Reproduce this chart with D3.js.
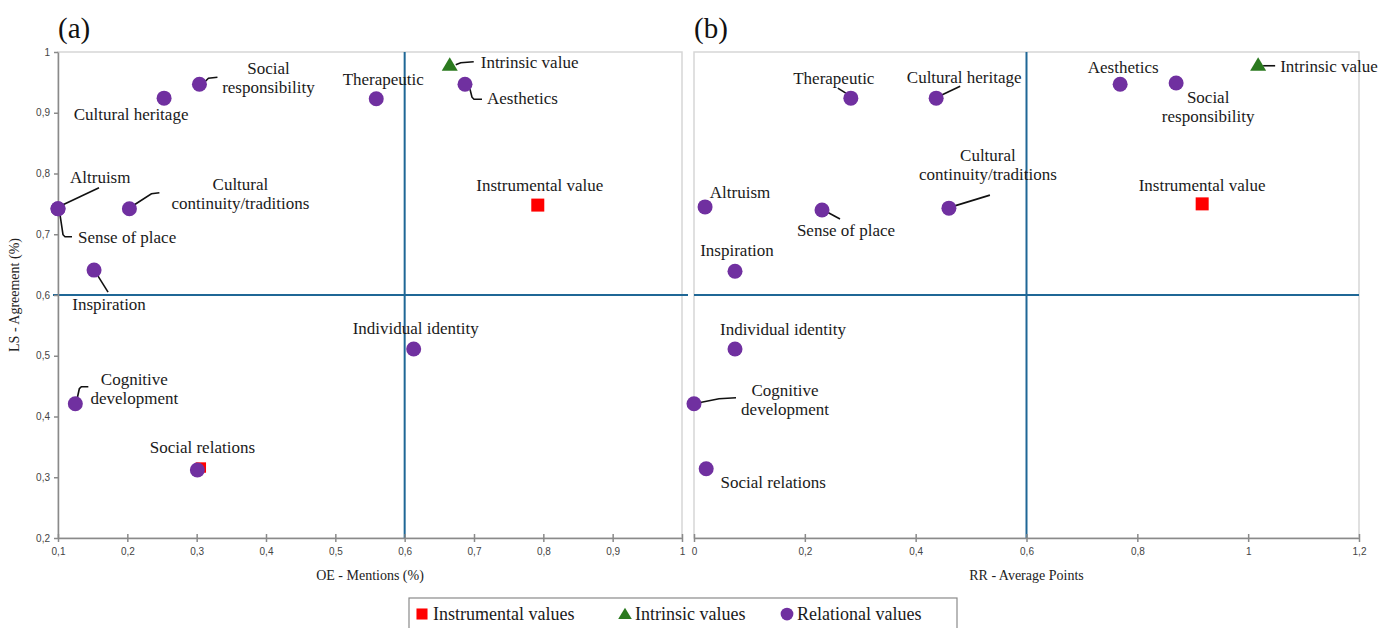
<!DOCTYPE html>
<html><head><meta charset="utf-8">
<script src="https://cdn.jsdelivr.net/npm/d3@7"></script>
<style>body{margin:0;background:#fff}svg{display:block}</style>
</head><body>
<svg id="c" width="1387" height="628"></svg>
<script>
// ---------- DATA ----------
const categories = ["Instrumental value","Intrinsic value","Aesthetics","Therapeutic","Social responsibility","Cultural heritage","Altruism","Sense of place","Cultural continuity/traditions","Inspiration","Individual identity","Cognitive development","Social relations"];
const groups = ["instrumental","intrinsic","relational","relational","relational","relational","relational","relational","relational","relational","relational","relational","relational"];
// panel (a): OE - Mentions (%)
const oeMentions = [0.792,0.665,0.687,0.559,0.304,0.253,0.100,0.100,0.203,0.152,0.613,0.125,0.301];
// panel (b): RR - Average Points
const rrPoints   = [0.917,1.018,0.769,0.283,0.870,0.437,0.020,0.231,0.460,0.074,0.074,0.000,0.022];
// LS - Agreement (%) panel (a) and (b)
const lsAgreeA   = [0.748,0.979,0.947,0.923,0.947,0.924,0.742,0.742,0.742,0.641,0.511,0.421,0.312];
const lsAgreeB   = [0.750,0.979,0.947,0.924,0.949,0.924,0.745,0.740,0.743,0.639,0.511,0.421,0.314];
// red instrumental marker partly hidden behind "Social relations" in panel (a)
const hiddenA = [{x:0.306, y:0.316}];
const yTicks  = [0.2,0.3,0.4,0.5,0.6,0.7,0.8,0.9,1];
const xTicksA = [0.1,0.2,0.3,0.4,0.5,0.6,0.7,0.8,0.9,1];
const xTicksB = [0,0.2,0.4,0.6,0.8,1,1.2];
const refX = 0.6, refY = 0.6;
const legendItems = [{g:"instrumental",t:"Instrumental values"},{g:"intrinsic",t:"Intrinsic values"},{g:"relational",t:"Relational values"}];

// ---------- LABEL LAYOUT (pixel offsets from the mark) ----------
const layoutA = {
 "Instrumental value":{dx:2,dy:[-14],a:"middle"},
 "Intrinsic value":{dx:31,dy:[3],a:"start",l:[[6,0],[11,-2],[24,-3]]},
 "Aesthetics":{dx:22,dy:[20],a:"start",l:[[5,5],[7,13],[9,15],[17,15]]},
 "Therapeutic":{dx:7,dy:[-14],a:"middle"},
 "Social responsibility":{dx:69,dy:[-10,9],a:"middle",t:["Social","responsibility"],l:[[6,-3],[9,-6],[18,-7]]},
 "Cultural heritage":{dx:-33,dy:[22],a:"middle"},
 "Altruism":{dx:12,dy:[-26],a:"start",l:[[5,-4],[41,-21]]},
 "Sense of place":{dx:20,dy:[34],a:"start",l:[[2,6],[5,26],[7,28],[14,28]]},
 "Cultural continuity/traditions":{dx:111,dy:[-19,0],a:"middle",t:["Cultural","continuity/traditions"],l:[[5,-4],[22,-15],[30,-16]]},
 "Inspiration":{dx:15,dy:[40],a:"middle",l:[[4,6],[14,22]]},
 "Individual identity":{dx:2,dy:[-15],a:"middle"},
 "Cognitive development":{dx:59,dy:[-19,0],a:"middle",t:["Cognitive","development"],l:[[2,-6],[4,-15],[6,-17],[13,-17]]},
 "Social relations":{dx:5,dy:[-17],a:"middle"}
};
const layoutB = {
 "Instrumental value":{dx:0,dy:[-13],a:"middle"},
 "Intrinsic value":{dx:22,dy:[7],a:"start",l:[[5,1],[17,1]]},
 "Aesthetics":{dx:3,dy:[-11],a:"middle"},
 "Therapeutic":{dx:-17,dy:[-14],a:"middle",l:[[-5,-5],[-13,-10]]},
 "Social responsibility":{dx:32,dy:[20,39],a:"middle",t:["Social","responsibility"]},
 "Cultural heritage":{dx:28,dy:[-15],a:"middle",l:[[5,-3],[24,-12]]},
 "Altruism":{dx:35,dy:[-9],a:"middle"},
 "Sense of place":{dx:24,dy:[26],a:"middle",l:[[5,2],[18,9]]},
 "Cultural continuity/traditions":{dx:39,dy:[-47,-28],a:"middle",t:["Cultural","continuity/traditions"],l:[[5,-2],[41,-13]]},
 "Inspiration":{dx:2,dy:[-15],a:"middle"},
 "Individual identity":{dx:48,dy:[-14],a:"middle"},
 "Cognitive development":{dx:91,dy:[-8,11],a:"middle",t:["Cognitive","development"],l:[[5,-1],[25,-5],[42,-6]]},
 "Social relations":{dx:67,dy:[19],a:"middle"}
};

// ---------- DRAW ----------
const svg = d3.select("#c");
const col = {instrumental:"#ff0000", intrinsic:"#2b7a1f", relational:"#7030a0"};
const blue = "#1f6796";
const serif = "'Liberation Serif','Times New Roman',serif";
const sans = "'Liberation Sans',Arial,sans-serif";
const fmt = d => Math.abs(d-Math.round(d))<1e-9 ? String(Math.round(d)) : d3.format(".1f")(d).replace(".",",");

const y = d3.scaleLinear().domain([0.2,1]).range([538,52]);
const xA = d3.scaleLinear().domain([0.1,1]).range([58,682]);
const xB = d3.scaleLinear().domain([0,1.2]).range([694,1359]);

function marker(g, grp, cx, cy, s){
  s = s||1;
  if(grp==="relational") g.append("circle").attr("cx",cx).attr("cy",cy).attr("r",7.5*s).attr("fill",col.relational);
  else if(grp==="instrumental") g.append("rect").attr("x",cx-6.5*s).attr("y",cy-6.5*s).attr("width",13*s).attr("height",13*s).attr("fill",col.instrumental);
  else g.append("path").attr("d",`M${cx},${cy-7.5*s}L${cx+8*s},${cy+6*s}L${cx-8*s},${cy+6*s}Z`).attr("fill",col.intrinsic);
}

function panel(x, xTicks, xs, ys, layout, title, tag, showY){
  const g = svg.append("g");
  const [x0,x1] = x.range(), [y0,y1] = [y(1), y(0.2)];
  g.append("rect").attr("x",x0).attr("y",y0).attr("width",x1-x0).attr("height",y1-y0)
    .attr("fill","none").attr("stroke","#d6d6d6").attr("stroke-width",1.5);
  // reference lines
  g.append("line").attr("x1",showY?x0-5:x0).attr("x2",showY?x1+6:x1).attr("y1",y(refY)).attr("y2",y(refY)).attr("stroke",blue).attr("stroke-width",2);
  g.append("line").attr("x1",x(refX)).attr("x2",x(refX)).attr("y1",y0).attr("y2",y1).attr("stroke",blue).attr("stroke-width",2);
  // x axis
  const ax = g.append("g").attr("transform",`translate(0,${y1})`)
    .call(d3.axisBottom(x).tickValues(xTicks).tickFormat(fmt).tickSizeInner(4).tickSizeOuter(0));
  ax.select(".domain").attr("stroke","#8a8a8a").attr("stroke-width",1.5);
  ax.selectAll(".tick line").attr("y1",-4).attr("y2",4).attr("stroke","#8a8a8a").attr("stroke-width",1.5);
  ax.selectAll(".tick text").attr("y",10).attr("font-family",sans).attr("font-size",10).attr("fill","#444");
  if(showY){
    const ay = g.append("g").attr("transform",`translate(${x0},0)`)
      .call(d3.axisLeft(y).tickValues(yTicks).tickFormat(fmt).tickSizeInner(4).tickSizeOuter(0));
    ay.select(".domain").attr("stroke","#8a8a8a").attr("stroke-width",1.5);
    ay.selectAll(".tick line").attr("stroke","#8a8a8a").attr("stroke-width",1.5);
    ay.selectAll(".tick text").attr("x",-8).attr("font-family",sans).attr("font-size",10).attr("fill","#444");
    svg.append("text").attr("transform",`translate(19,${y(0.6)}) rotate(-90)`).attr("text-anchor","middle")
      .attr("font-family",serif).attr("font-size",14).attr("fill","#222").text("LS - Agreement (%)");
  }
  g.append("text").attr("x",(x0+x1)/2).attr("y",580).attr("text-anchor","middle")
    .attr("font-family",serif).attr("font-size",14).attr("fill","#222").text(title);
  g.append("text").attr("x",x0).attr("y",38).attr("font-family",serif).attr("font-size",29).attr("fill","#111").text(tag);
  // labels + leaders
  categories.forEach((c,i)=>{
    const px = x(xs[i]), py = y(ys[i]), L = layout[c];
    if(L.l){
      g.append("polyline").attr("points",L.l.map(p=>[px+p[0],py+p[1]].join(",")).join(" "))
        .attr("fill","none").attr("stroke","#111").attr("stroke-width",1.6);
    }
    const lines = L.t || [c];
    lines.forEach((t,k)=>{
      g.append("text").attr("x",px+L.dx).attr("y",py+L.dy[k]).attr("text-anchor",L.a)
        .attr("font-family",serif).attr("font-size",17).attr("fill","#1a1a1a").text(t);
    });
  });
  return g;
}

const gA = panel(xA, xTicksA, oeMentions, lsAgreeA, layoutA, "OE - Mentions (%)", "(a)", true);
const gB = panel(xB, xTicksB, rrPoints, lsAgreeB, layoutB, "RR - Average Points", "(b)", false);
hiddenA.forEach(h=>marker(gA,"instrumental",xA(h.x),y(h.y),0.8));
categories.forEach((c,i)=>{
  marker(gA, groups[i], xA(oeMentions[i]), y(lsAgreeA[i]));
  marker(gB, groups[i], xB(rrPoints[i]), y(lsAgreeB[i]));
});

// legend
const lg = svg.append("g");
lg.append("rect").attr("x",409).attr("y",598).attr("width",548).attr("height",40).attr("fill","#fff").attr("stroke","#8a8a8a").attr("stroke-width",1.2);
const lx = [422, 625, 787], tx = [433, 635, 797];
legendItems.forEach((it,i)=>{
  marker(lg, it.g, lx[i], 614, 0.85);
  lg.append("text").attr("x",tx[i]).attr("y",620).attr("font-family",serif).attr("font-size",18).attr("fill","#1a1a1a").text(it.t);
});
</script>
</body></html>
